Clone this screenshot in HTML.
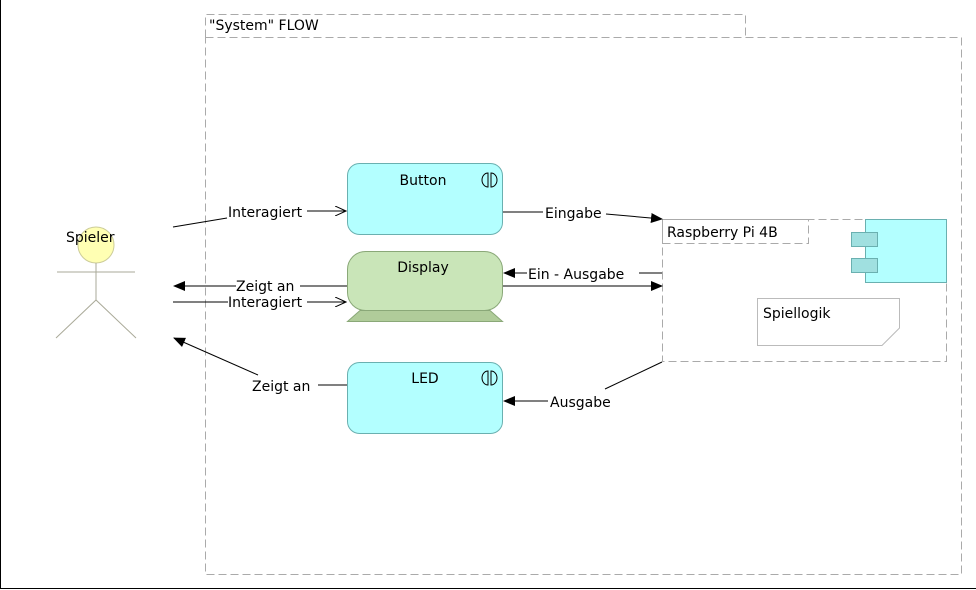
<!DOCTYPE html>
<html><head><meta charset="utf-8"><style>
html,body{margin:0;padding:0;background:#fff;}
svg{display:block;}
text{font-family:"DejaVu Sans","Liberation Sans",sans-serif;font-size:14px;fill:#000;}
</style></head><body>
<svg width="976" height="590" viewBox="0 0 976 590" xmlns="http://www.w3.org/2000/svg">
<defs>
<marker id="f" markerWidth="12" markerHeight="10" refX="11" refY="5" orient="auto" markerUnits="userSpaceOnUse"><path d="M0,0 L12,5 L0,10 z" fill="#000"/></marker>
<marker id="o" markerWidth="12" markerHeight="10" refX="11" refY="5" orient="auto" markerUnits="userSpaceOnUse"><path d="M0,0 L11,5 L0,10" fill="none" stroke="#000"/></marker>
</defs>
<rect width="976" height="590" fill="#fff"/>
<line x1="0.5" y1="0" x2="0.5" y2="589" stroke="#000"/>
<line x1="0" y1="588.5" x2="976" y2="588.5" stroke="#000"/>
<!-- system frame -->
<g fill="none" stroke="#aaa" stroke-dasharray="8,4">
<path d="M205.5,37.5 V14.5 H745.5 V37.5"/>
<rect x="205.5" y="37.5" width="756" height="537"/>
</g>
<text x="209" y="30">"System" FLOW</text>
<!-- actor -->
<circle cx="96" cy="245" r="18" fill="#ffffb3" stroke="#cc9"/>
<g stroke="#aa9" fill="none">
<line x1="96" y1="263" x2="96" y2="300"/>
<line x1="57" y1="272" x2="135" y2="272"/>
<path d="M56,338 L96,300 L136,338"/>
</g>
<text x="66" y="242">Spieler</text>
<!-- Button -->
<rect x="347.5" y="163.5" width="155" height="71" rx="12" fill="#b3ffff" stroke="#6ab0b0"/>
<text x="423" y="185" text-anchor="middle">Button</text>
<g fill="none" stroke="#000"><path d="M488,173 A6,7 0 0 0 488,187 z"/><path d="M491,173 A6,7 0 0 1 491,187 z"/></g>
<!-- Display -->
<path d="M360,310.5 L347.5,321.5 H502.5 L490,310.5 z" fill="#b0cc9a" stroke="#8aa878"/>
<rect x="347.5" y="251.5" width="155" height="59" rx="18" fill="#c9e5b8" stroke="#8aa878"/>
<text x="423" y="272" text-anchor="middle">Display</text>
<!-- LED -->
<rect x="347.5" y="362.5" width="155" height="71" rx="12" fill="#b3ffff" stroke="#6ab0b0"/>
<text x="425" y="383" text-anchor="middle">LED</text>
<g fill="none" stroke="#000"><path d="M488,371 A6,7 0 0 0 488,385 z"/><path d="M491,371 A6,7 0 0 1 491,385 z"/></g>
<!-- Raspberry -->
<g fill="none" stroke="#aaa" stroke-dasharray="8,4">
<path d="M662.5,243.5 H808.5 V219.5 H662.5 Z"/>
<rect x="662.5" y="219.5" width="284" height="142"/>
</g>
<rect x="865.5" y="219.5" width="81" height="63" fill="#b3ffff" stroke="#6ab0b0"/>
<rect x="851.5" y="232.5" width="26" height="14" fill="#a0e0e0" stroke="#6ab0b0"/>
<rect x="851.5" y="258.5" width="26" height="14" fill="#a0e0e0" stroke="#6ab0b0"/>
<text x="667" y="237">Raspberry Pi 4B</text>
<path d="M757.5,298.5 H899.5 V328 L882,345.5 H757.5 Z" fill="#fff" stroke="#bbb"/>
<text x="763" y="318">Spiellogik</text>
<!-- connectors -->
<g stroke="#000" fill="none">
<line x1="173" y1="227" x2="227" y2="218"/>
<line x1="307" y1="211" x2="346" y2="211" marker-end="url(#o)"/>
<line x1="347" y1="286" x2="300" y2="286"/>
<line x1="236" y1="286" x2="174" y2="286" marker-end="url(#f)"/>
<line x1="173" y1="302" x2="228" y2="302"/>
<line x1="307" y1="302" x2="346" y2="302" marker-end="url(#o)"/>
<line x1="347" y1="385" x2="318" y2="385"/>
<line x1="258" y1="375" x2="174" y2="338" marker-end="url(#f)"/>
<line x1="503" y1="212" x2="543" y2="212"/>
<line x1="606" y1="214" x2="662" y2="219" marker-end="url(#f)"/>
<line x1="662" y1="273" x2="639" y2="273"/>
<line x1="527" y1="273" x2="504" y2="273" marker-end="url(#f)"/>
<line x1="503" y1="286" x2="662" y2="286" marker-end="url(#f)"/>
<line x1="662" y1="362" x2="605" y2="389"/>
<line x1="548" y1="401" x2="504" y2="401" marker-end="url(#f)"/>
</g>
<text x="228" y="217">Interagiert</text>
<text x="236" y="291">Zeigt an</text>
<text x="228" y="307">Interagiert</text>
<text x="252" y="391">Zeigt an</text>
<text x="545" y="218">Eingabe</text>
<text x="528" y="279">Ein - Ausgabe</text>
<text x="550" y="407">Ausgabe</text>
</svg>
</body></html>
